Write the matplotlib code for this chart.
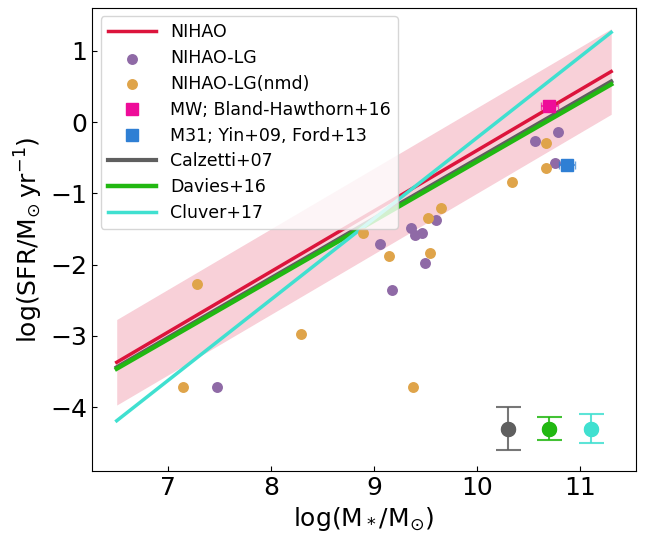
import numpy as np
from matplotlib import pyplot as plt

# Mass range of the fitted relations
mass_ends = [6.5, 11.3]
nihao_ends = [-3.37, 0.71]
calzetti_ends = [-3.44, 0.57]
davies_ends = [-3.46, 0.53]
cluver_ends = [-4.19, 1.26]
band_halfwidth = 0.6

# NIHAO-LG simulated galaxies
lg_mass = [7.47, 9.06, 9.17, 9.36, 9.40, 9.46, 9.49, 9.60, 10.56, 10.75, 10.78]
lg_sfr = [-3.71, -1.71, -2.36, -1.48, -1.58, -1.56, -1.97, -1.37, -0.27, -0.58, -0.14]

# NIHAO-LG (nmd)
nmd_mass = [7.14, 7.28, 8.29, 8.89, 9.14, 9.38, 9.52, 9.54, 9.65, 10.34, 10.67, 10.67]
nmd_sfr = [-3.71, -2.27, -2.97, -1.56, -1.88, -3.71, -1.34, -1.84, -1.21, -0.84, -0.64, -0.29]

# Observed Milky Way and M31
mw_mass, mw_sfr, mw_xerr = 10.70, 0.22, 0.08
m31_mass, m31_sfr, m31_xerr = 10.87, -0.60, 0.08

# Typical scatter of the observed relations (drawn bottom right)
scatter_x = [10.3, 10.7, 11.1]
scatter_y = [-4.3, -4.3, -4.3]
scatter_err = [0.30, 0.16, 0.20]

c_nihao = 'crimson'
c_lg = '#8f6aa6'
c_nmd = '#dfa44a'
c_mw = '#ee0c99'
c_m31 = '#2f7fd4'
c_calz = '#5f5f5f'
c_dav = '#22b812'
c_clu = '#40e0d0'

fig = plt.figure(figsize=(6.46, 5.35), dpi=100)
ax = fig.add_axes([0.1424, 0.1196, 0.842, 0.866])

mass_ends = np.array(mass_ends)
nihao_ends = np.array(nihao_ends)
ax.fill_between(mass_ends, nihao_ends - band_halfwidth, nihao_ends + band_halfwidth,
                color=c_nihao, alpha=0.2, lw=0)
l_nihao, = ax.plot(mass_ends, nihao_ends, color=c_nihao, lw=2.5, label='NIHAO')
l_calz, = ax.plot(mass_ends, calzetti_ends, color=c_calz, lw=3, label='Calzetti+07')
l_dav, = ax.plot(mass_ends, davies_ends, color=c_dav, lw=3.2, label='Davies+16')
l_clu, = ax.plot(mass_ends, cluver_ends, color=c_clu, lw=2.5, label='Cluver+17')

s_lg = ax.scatter(lg_mass, lg_sfr, s=62, color=c_lg, lw=0, label='NIHAO-LG', zorder=3)
s_nmd = ax.scatter(nmd_mass, nmd_sfr, s=62, color=c_nmd, lw=0, label='NIHAO-LG(nmd)', zorder=3)

ax.errorbar(mw_mass, mw_sfr, xerr=mw_xerr, fmt='none', ecolor=c_mw, capsize=3, alpha=0.7, zorder=4)
s_mw, = ax.plot(mw_mass, mw_sfr, 's', color=c_mw, ms=9, ls='none',
                label='MW; Bland-Hawthorn+16', zorder=4)
ax.errorbar(m31_mass, m31_sfr, xerr=m31_xerr, fmt='none', ecolor=c_m31, capsize=3, alpha=0.7, zorder=4)
s_m31, = ax.plot(m31_mass, m31_sfr, 's', color=c_m31, ms=9, ls='none',
                 label='M31; Yin+09, Ford+13', zorder=4)

for xx, yy, ee, cc in zip(scatter_x, scatter_y, scatter_err, [c_calz, c_dav, c_clu]):
    ax.errorbar(xx, yy, yerr=ee, fmt='o', color=cc, ms=10, capsize=9,
                elinewidth=1.5, capthick=1.5, ecolor=cc, alpha=0.85)
    ax.plot(xx, yy, 'o', color=cc, ms=10)

ax.legend(handles=[l_nihao, s_lg, s_nmd, s_mw, s_m31, l_calz, l_dav, l_clu],
          loc='upper left', fontsize=12.5, handlelength=2.8, borderpad=0.4,
          labelspacing=0.45)

ax.set_xticks([7, 8, 9, 10, 11])
ax.set_yticks([-4, -3, -2, -1, 0, 1])
ax.tick_params(direction='in', labelsize=18)
ax.set_xlabel(r'log(M$_*$/M$_{\odot}$)', fontsize=18)
ax.set_ylabel(r'log(SFR/M$_{\odot}\,$yr$^{-1}$)', fontsize=18)

plt.savefig('out.png', dpi=100)
